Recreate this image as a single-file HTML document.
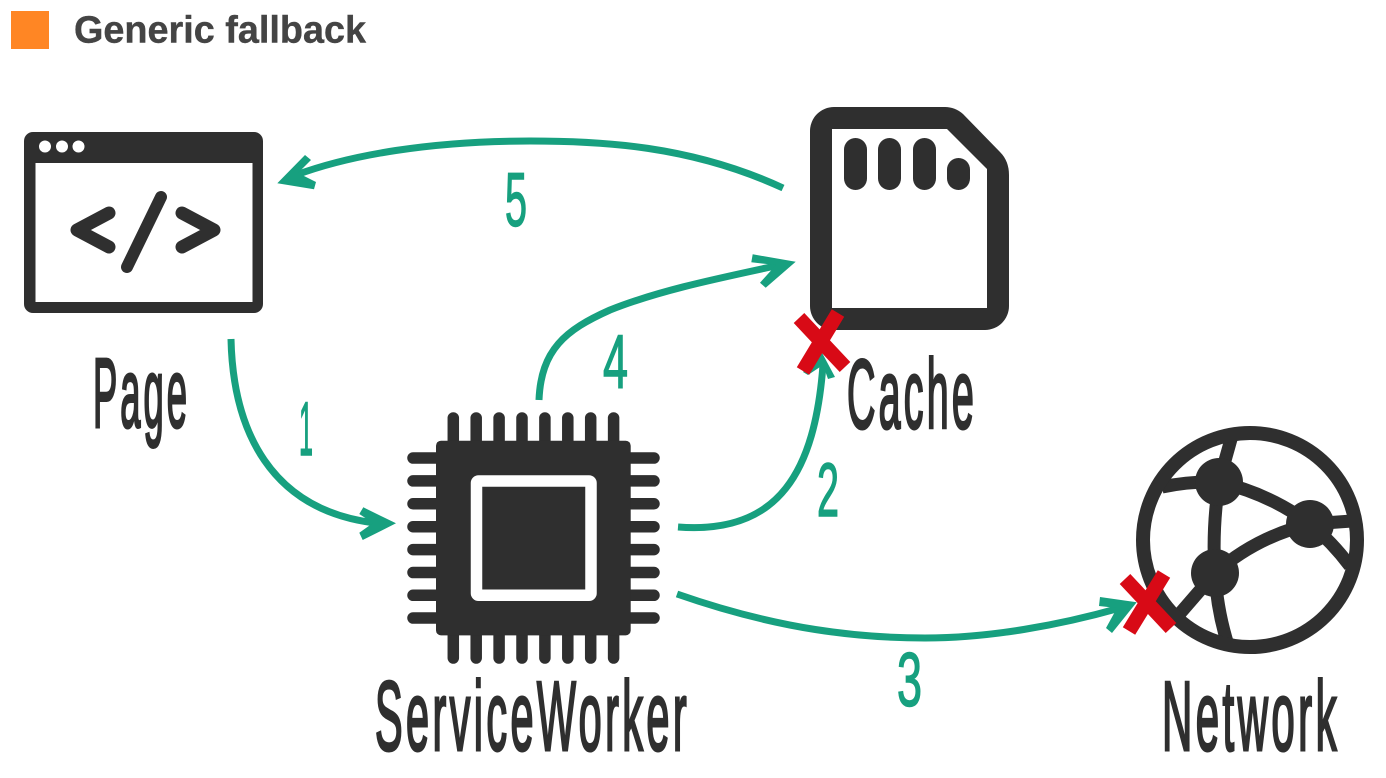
<!DOCTYPE html>
<html><head><meta charset="utf-8"><style>
html,body{margin:0;padding:0;background:#fff;width:1386px;height:778px;overflow:hidden}
svg{display:block}
.l{font-family:"Liberation Sans",sans-serif;font-weight:400;fill:#2f2f2f;stroke:#2f2f2f;stroke-width:3;font-size:98px;letter-spacing:8px}
.n{font-family:"Liberation Sans",sans-serif;font-weight:400;fill:#17a07f;stroke:#17a07f;stroke-width:1.5;font-size:76px}
.a{fill:none;stroke:#17a07f;stroke-width:7}
.h{fill:#17a07f}
.x{stroke:#d80a16;stroke-width:14.5;fill:none}
</style></head><body>
<svg width="1386" height="778" viewBox="0 0 1386 778" xmlns="http://www.w3.org/2000/svg">
<rect width="1386" height="778" fill="#fff"/>
<rect x="11" y="11" width="38" height="38" fill="#ff8624"/>
<text x="74" y="42.500" font-family="Liberation Sans, sans-serif" font-weight="700" font-size="38" fill="#444" stroke="#444" stroke-width=".4" textLength="292" lengthAdjust="spacingAndGlyphs">Generic fallback</text>

<!-- Page window -->
<path fill="#2f2f2f" fill-rule="evenodd" d="M33 132H254A9 9 0 0 1 263 141V304A9 9 0 0 1 254 313H33A9 9 0 0 1 24 304V141A9 9 0 0 1 33 132ZM35.500 163V302H252.500V163Z"/>
<circle cx="45" cy="146.500" r="6" fill="#fff"/><circle cx="62" cy="146.500" r="6" fill="#fff"/><circle cx="78.500" cy="146.500" r="6" fill="#fff"/>
<g fill="none" stroke="#2f2f2f" stroke-width="13" stroke-linecap="round" stroke-linejoin="round">
<path d="M109 213L77 230L109 247"/><path d="M161 197L127 267" stroke-width="12"/><path d="M182 213L214 230L182 247"/>
</g>

<!-- Cache -->
<path fill="#2f2f2f" fill-rule="evenodd" d="M834 107H945Q955 107 963 114L1000 152Q1009 161 1009 175V306A24 24 0 0 1 985 330H834A24 24 0 0 1 810 306V131A24 24 0 0 1 834 107ZM832 129V308H987V169L947 129Z"/>
<g fill="#2f2f2f">
<rect x="844" y="138" width="23" height="52" rx="11.500"/><rect x="878" y="138" width="23" height="52" rx="11.500"/><rect x="913" y="138" width="23" height="52" rx="11.500"/><rect x="947" y="158" width="23" height="32" rx="11.500"/>
</g>

<!-- Chip -->
<g stroke="#2f2f2f" stroke-width="11.500" stroke-linecap="round">
<path d="M453.300 418V658M476.200 418V658M499.100 418V658M522 418V658M544.900 418V658M567.800 418V658M590.700 418V658M613.600 418V658"/>
<path d="M413 458H654M413 480.900H654M413 503.800H654M413 526.700H654M413 549.600H654M413 572.500H654M413 595.300H654M413 618H654"/>
</g>
<rect x="436" y="440.700" width="194.700" height="194.700" rx="5" fill="#2f2f2f"/>
<rect x="476.500" y="481" width="114.500" height="114.300" rx="2" fill="#2f2f2f" stroke="#fff" stroke-width="11.500"/>

<!-- Globe -->
<g fill="none" stroke="#2f2f2f" stroke-width="13">
<path d="M1233 432L1219 482"/>
<path d="M1162 487Q1190 481 1219 482"/>
<path d="M1219 482Q1212 530 1215 573"/>
<path d="M1219 482Q1270 494 1310 524"/>
<path d="M1215 573Q1256 537 1310 524"/>
<path d="M1310 524L1352 521"/>
<path d="M1310 524Q1332 542 1350 566"/>
<path d="M1215 573L1176 618"/>
<path d="M1215 573Q1217 610 1228 645"/>
</g>
<circle cx="1250" cy="540" r="107" fill="none" stroke="#2f2f2f" stroke-width="14"/>
<circle cx="1219" cy="482" r="24" fill="#2f2f2f"/><circle cx="1310" cy="524" r="24" fill="#2f2f2f"/><circle cx="1215" cy="573" r="24" fill="#2f2f2f"/>

<!-- Arrows -->
<path class="a" d="M231 339C233 430 270 510 375 523"/>
<polygon class="h" points="396,523.300 363.300,507.300 359.300,514 373,523 359.300,532.700 362.700,540"/>
<path class="a" d="M783 188C690 145 600 141 530 141C430 141 350 155 296 175"/>
<polygon class="h" points="277.300,183.300 305,155 311,160 298,173 316,182 314,189.300"/>
<path class="a" d="M539 400C541 350 565 330 610 310C660 290 720 278 780 265"/>
<polygon class="h" points="795.700,261.700 752.700,254.300 751.300,262.300 776,265 760,282.700 765.700,287.700"/>
<path class="a" d="M678 527C780 535 815 470 823 365"/>
<polygon class="h" points="822.300,353.300 835,377 828,379 823,365 808,375 803,372"/>
<path class="a" d="M677 594C780 630 860 638 925 638C990 638 1060 625 1120 608"/>
<polygon class="h" points="1136.700,602.300 1100,597 1099,606 1117,608 1106,628 1112,633"/>

<!-- Red crosses -->
<path class="x" d="M799 318L845 367M838 313L803 371"/>
<path class="x" d="M1125 579L1171 628M1164 574L1129 631"/>

<!-- Labels -->
<text class="l" x="93" y="427" textLength="97" lengthAdjust="spacingAndGlyphs">Page</text>
<text class="l" x="847" y="428" textLength="130" lengthAdjust="spacingAndGlyphs">Cache</text>
<text class="l" x="375" y="750" textLength="315" lengthAdjust="spacingAndGlyphs">ServiceWorker</text>
<text class="l" x="1162" y="750" textLength="178" lengthAdjust="spacingAndGlyphs">Network</text>

<text class="n" x="299" y="455" textLength="14" lengthAdjust="spacingAndGlyphs">1</text>
<text class="n" x="505" y="226" textLength="22" lengthAdjust="spacingAndGlyphs">5</text>
<text class="n" x="603" y="388" textLength="25" lengthAdjust="spacingAndGlyphs">4</text>
<text class="n" x="817" y="516" textLength="22" lengthAdjust="spacingAndGlyphs">2</text>
<text class="n" x="897" y="706" textLength="25" lengthAdjust="spacingAndGlyphs">3</text>
</svg>
</body></html>
